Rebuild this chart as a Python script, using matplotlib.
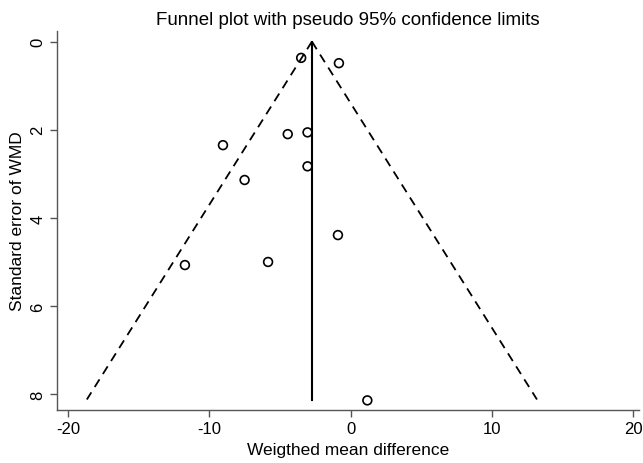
import numpy as np
import matplotlib.pyplot as plt

plt.rcParams['font.family'] = ['Liberation Sans', 'DejaVu Sans']
plt.rcParams['axes.unicode_minus'] = False

# study estimates
wmd = [-3.50, -0.83, -4.45, -3.05, -9.03, -3.05, -7.50, -0.90, -5.84, -11.72, 1.18]
se_wmd = [0.37, 0.49, 2.10, 2.06, 2.35, 2.83, 3.14, 4.39, 5.00, 5.07, 8.14]
pooled = -2.74
se_max = 8.12

fig = plt.figure(figsize=(6.43, 4.64), dpi=100)
ax = fig.add_axes([0.089, 0.115, 0.905, 0.817])

se_line = np.array([0, se_max])
ax.plot(pooled - 1.96 * se_line, se_line, color='black', lw=1.3, ls=(0, (5, 3.5)))
ax.plot(pooled + 1.96 * se_line, se_line, color='black', lw=1.3, ls=(0, (5, 3.5)))
ax.plot([pooled, pooled], se_line, color='black', lw=1.5)

ax.scatter(wmd, se_wmd, s=40, facecolors='none', edgecolors='black', linewidths=1.2, zorder=3)

ax.set_xlim(-20.75, 20.4)
ax.set_ylim(8.35, -0.25)
ax.set_xticks([-20, -10, 0, 10, 20])
ax.set_yticks([0, 2, 4, 6, 8])
for lbl in ax.get_yticklabels():
    lbl.set_rotation(90)
    lbl.set_va('center')

for s in ['top', 'right']:
    ax.spines[s].set_visible(False)
for s in ['left', 'bottom']:
    ax.spines[s].set_color('#555555')
    ax.spines[s].set_linewidth(1.0)
ax.tick_params(direction='out', length=5, width=1.0, color='#555555', labelsize=12)

ax.set_xlabel('Weigthed mean difference', fontsize=12.5, labelpad=4)
ax.set_ylabel('Standard error of WMD', fontsize=12.5, labelpad=4)
ax.set_title('Funnel plot with pseudo 95% confidence limits', fontsize=13.5, pad=5)

fig.savefig('out.png', dpi=100)
